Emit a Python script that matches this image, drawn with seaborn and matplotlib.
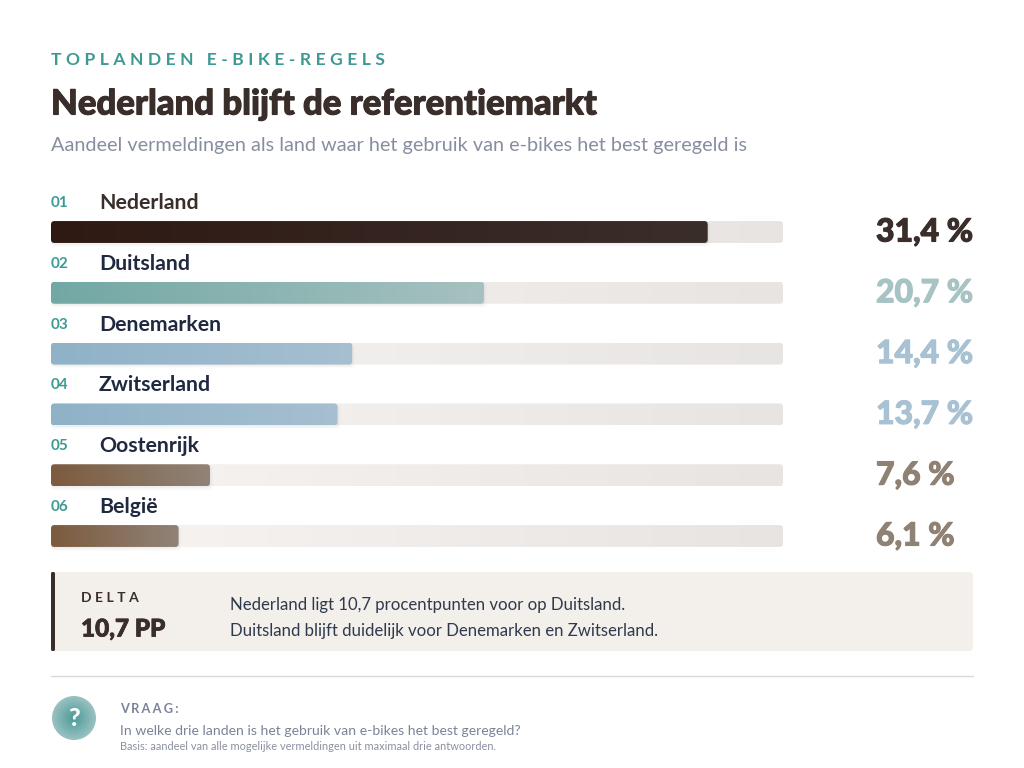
import numpy as np
import pandas as pd
import seaborn as sns
import matplotlib
matplotlib.use("Agg")
import matplotlib.pyplot as plt
import matplotlib.patheffects as pe
from matplotlib.colors import LinearSegmentedColormap
from matplotlib.patches import FancyBboxPatch, Circle

# Data
countries = ["Nederland", "Duitsland", "Denemarken", "Zwitserland", "Oostenrijk", "België"]
ranks = ["01", "02", "03", "04", "05", "06"]
shares = [31.4, 20.7, 14.4, 13.7, 7.6, 6.1]
track_max = 35.0
bar_starts = ["#2f1913", "#72a8a4", "#8fb2c7", "#8fb2c7", "#7c5b3e", "#7c5b3e"]
bar_ends = ["#3a2e2b", "#a6c1c0", "#a6bfd1", "#a6bfd1", "#918377", "#918377"]
value_colors = ["#3a2e2b", "#a7c3c3", "#a8c1d3", "#a8c1d3", "#8f8173", "#8f8173"]
name_colors = ["#3a2e2b", "#1f2a40", "#1f2a40", "#1f2a40", "#1f2a40", "#1f2a40"]
TEAL = "#3d9a93"
DARK = "#3a2e2b"
SLATE = "#7b8398"
W, H = 1024, 768


def tracked(s, hairs=2):
    return ("\u200a" * hairs).join(s)


sns.set_theme(style="white")
plt.rcParams["font.family"] = ["Lato", "DejaVu Sans"]

fig = plt.figure(figsize=(W / 100, H / 100), dpi=100, facecolor="white")

# Page-level layer measured in pixels for header, callout and footer
page = fig.add_axes([0, 0, 1, 1], zorder=0)
page.set_xlim(0, W)
page.set_ylim(H, 0)
page.axis("off")

# Chart layer: x runs 0..35 % along the track, one row per country
row_h = 60.8
x0, x1 = 51, 783
y_top, y_bot = 232 - row_h / 2, 536 + row_h / 2
ax = fig.add_axes([x0 / W, 1 - y_bot / H, (x1 - x0) / W, (y_bot - y_top) / H], zorder=1)
ax.patch.set_visible(False)

df = pd.DataFrame({"land": countries, "aandeel": shares, "schaal": [track_max] * len(countries)})
sns.barplot(data=df, x="schaal", y="land", ax=ax, width=0.36, color="#eeeeee", errorbar=None)
sns.barplot(data=df, x="aandeel", y="land", ax=ax, width=0.36, color="#888888", errorbar=None)
ax.set_xlim(0, track_max)
ax.set_ylim(len(countries) - 0.5, -0.5)
ax.set_axis_off()

px_x = (x1 - x0) / track_max
px_y = row_h


def gradient_bar(rect, c0, c1, z, radius=3.5):
    x, y, w, h = rect.get_x(), rect.get_y(), rect.get_width(), rect.get_height()
    rect.set_alpha(0)
    r = radius / px_x
    shape = FancyBboxPatch((x, y), w, h, boxstyle=f"round,pad=0,rounding_size={r}",
                           mutation_aspect=px_x / px_y, fc="none", ec="none", zorder=z)
    ax.add_patch(shape)
    cmap = LinearSegmentedColormap.from_list("g", [c0, c1])
    im = ax.imshow(np.linspace(0, 1, 256)[None, :], extent=(x, x + w, y + h, y), aspect="auto",
                   cmap=cmap, zorder=z, interpolation="bilinear")
    im.set_clip_path(shape)


for rect in ax.containers[0]:
    gradient_bar(rect, "#f8f5f3", "#e8e4e2", 1)

for i, rect in enumerate(ax.containers[1]):
    x, y, w, h = rect.get_x(), rect.get_y(), rect.get_width(), rect.get_height()
    # soft drop shadow beneath the filled bar
    for grow, a in ((3, 0.015), (1.5, 0.025), (0.5, 0.03)):
        ax.add_patch(FancyBboxPatch((x, y + 1 / px_y), w + grow / px_x, h + grow / px_y,
                                    boxstyle=f"round,pad=0,rounding_size={4 / px_x}",
                                    mutation_aspect=px_x / px_y, fc="#3a2e2b", ec="none",
                                    alpha=a, zorder=2))
    gradient_bar(rect, bar_starts[i], bar_ends[i], 3)

ax.set_xlim(0, track_max)
ax.set_ylim(len(countries) - 0.5, -0.5)

# Row labels and values
ytrans = ax.get_yaxis_transform()
for i, (rank, name, val) in enumerate(zip(ranks, countries, shares)):
    ax.annotate(rank, (0, i), xycoords=ytrans, xytext=(0, 29), textcoords="offset pixels",
                fontsize=11, fontweight="bold", color=TEAL, va="center", ha="left", annotation_clip=False)
    ax.annotate(name, (0, i), xycoords=ytrans, xytext=(48, 29), textcoords="offset pixels",
                fontsize=15.3, fontweight="bold", color=name_colors[i], va="center", ha="left", annotation_clip=False)
    label = ax.annotate(f"{val:.1f}".replace(".", ",") + " %", (1, i), xycoords=ytrans, xytext=(93, 0),
                        textcoords="offset pixels", fontsize=23, fontweight="black", color=value_colors[i],
                        va="center", ha="left", annotation_clip=False)
    label.set_path_effects([pe.Stroke(linewidth=0.8, foreground=value_colors[i]), pe.Normal()])

# Header
page.text(51, 60, tracked("TOPLANDEN E-BIKE-REGELS", 4), fontsize=12.6, fontweight="bold", color=TEAL, va="center")
title = page.text(51, 104.5, "Nederland blijft de referentiemarkt", fontsize=25, fontweight="black", color=DARK, va="center")
title.set_path_effects([pe.Stroke(linewidth=0.8, foreground=DARK), pe.Normal()])
page.text(51, 145, "Aandeel vermeldingen als land waar het gebruik van e-bikes het best geregeld is",
          fontsize=14.35, fontweight="normal", color="#878ea0", va="center")

# Delta callout
page.add_patch(FancyBboxPatch((53, 572), 920, 79, boxstyle="round,pad=0,rounding_size=4",
                              fc="#f3efeb", ec="none"))
page.add_patch(FancyBboxPatch((51, 572), 4, 79, boxstyle="round,pad=0,rounding_size=1.5",
                              fc=DARK, ec="none"))
page.text(81, 598, tracked("DELTA", 4), fontsize=10, fontweight="bold", color=DARK, va="center")
delta = page.text(81, 629, "10,7 PP", fontsize=17.5, fontweight="black", color=DARK, va="center")
delta.set_path_effects([pe.Stroke(linewidth=0.6, foreground=DARK), pe.Normal()])
page.text(230, 605, "Nederland ligt 10,7 procentpunten voor op Duitsland.", fontsize=12.1, color="#2f3a4c", va="center")
page.text(230, 631, "Duitsland blijft duidelijk voor Denemarken en Zwitserland.", fontsize=12.1, color="#2f3a4c", va="center")

# Footer
page.plot([51, 973], [676, 676], color="#d9d8d9", lw=1)
yy, xx = np.mgrid[-1:1:200j, -1:1:200j]
teal_glow = LinearSegmentedColormap.from_list("glow", ["#4b9a98", "#9fc4c4"])
disc = Circle((74, 718), 22, transform=page.transData, fc="none", ec="none")
page.add_patch(disc)
glow = page.imshow(np.hypot(xx, yy), extent=(52, 96, 740, 696), cmap=teal_glow, vmin=0, vmax=1.05,
                   aspect="auto", zorder=1)
glow.set_clip_path(disc)
page.set_xlim(0, W)
page.set_ylim(H, 0)
page.text(74, 718, "?", fontsize=18, fontweight="black", color="white", ha="center", va="center", zorder=2)
page.text(120, 709, tracked("VRAAG:", 3), fontsize=9.2, fontweight="bold", color=SLATE, va="center")
page.text(120, 731, "In welke drie landen is het gebruik van e-bikes het best geregeld?",
          fontsize=10.05, color=SLATE, va="center")
page.text(120, 746, "Basis: aandeel van alle mogelijke vermeldingen uit maximaal drie antwoorden.",
          fontsize=7.9, color="#8a90a0", va="center")

fig.savefig("out.png", dpi=100, facecolor="white")
